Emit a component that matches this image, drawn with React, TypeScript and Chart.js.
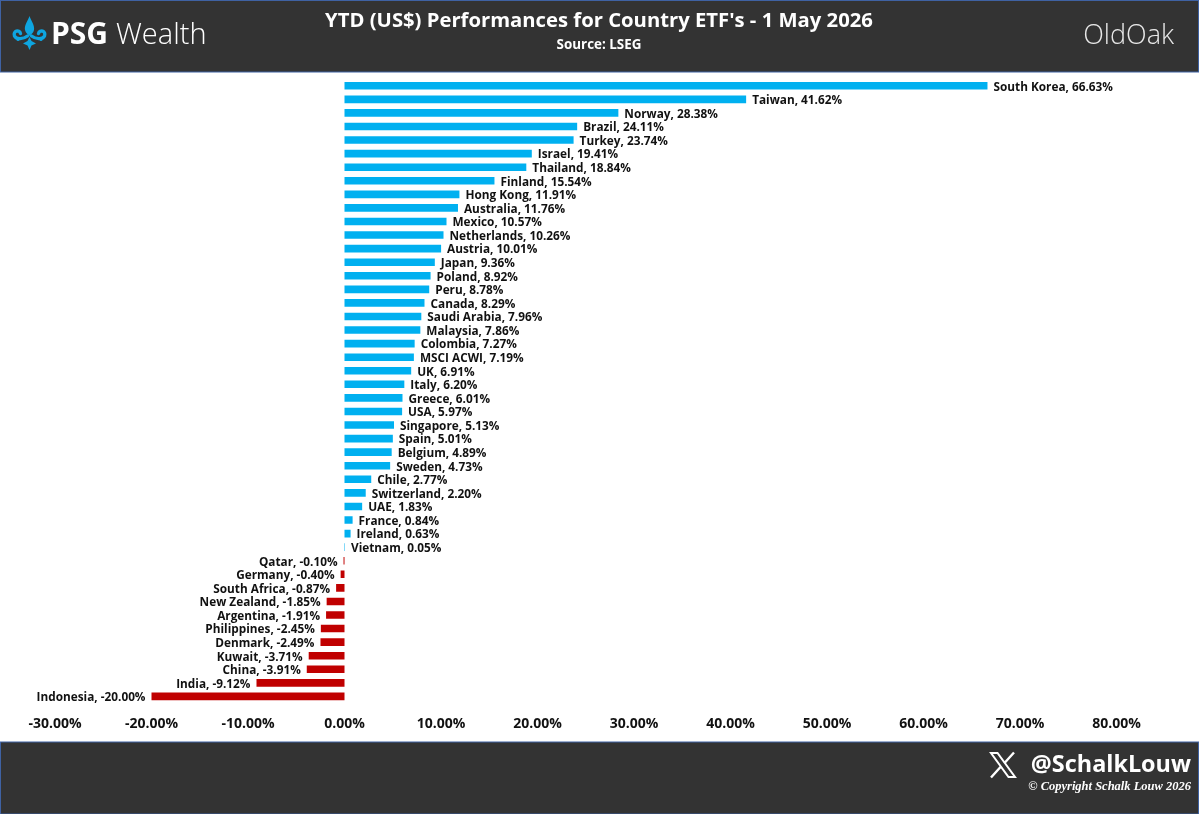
import React, { useEffect, useRef } from "react";
import { Chart, registerables } from "chart.js";

Chart.register(...registerables);

const countries = ["South Korea","Taiwan","Norway","Brazil","Turkey","Israel","Thailand","Finland","Hong Kong","Australia","Mexico","Netherlands","Austria","Japan","Poland","Peru","Canada","Saudi Arabia","Malaysia","Colombia","MSCI ACWI","UK","Italy","Greece","USA","Singapore","Spain","Belgium","Sweden","Chile","Switzerland","UAE","France","Ireland","Vietnam","Qatar","Germany","South Africa","New Zealand","Argentina","Philippines","Denmark","Kuwait","China","India","Indonesia"];
const performance = [66.63,41.62,28.38,24.11,23.74,19.41,18.84,15.54,11.91,11.76,10.57,10.26,10.01,9.36,8.92,8.78,8.29,7.96,7.86,7.27,7.19,6.91,6.20,6.01,5.97,5.13,5.01,4.89,4.73,2.77,2.20,1.83,0.84,0.63,0.05,-0.10,-0.40,-0.87,-1.85,-1.91,-2.45,-2.49,-3.71,-3.91,-9.12,-20.00];

const TITLE = "YTD (US$) Performances for Country ETF's - 1 May 2026";
const SUBTITLE = "Source: LSEG";
const FONT = '"Open Sans", "Noto Sans", sans-serif';
const DARK = "#333333";
const EDGE = "#3f62a3";
const BLUE = "#00B0F0";
const RED = "#C00000";

const fmt = (v: number) => v.toFixed(2) + "%";

function drawLogo(ctx: CanvasRenderingContext2D) {
  ctx.save();
  ctx.fillStyle = "#0ea5e0";
  // centre petal
  ctx.beginPath();
  ctx.moveTo(29.5, 16);
  ctx.bezierCurveTo(31, 21, 35, 25, 34, 30);
  ctx.bezierCurveTo(33.5, 33, 31, 34, 29.5, 36);
  ctx.bezierCurveTo(28, 34, 25.5, 33, 25, 30);
  ctx.bezierCurveTo(24, 25, 28, 21, 29.5, 16);
  ctx.fill();
  // lower diamond
  ctx.beginPath();
  ctx.moveTo(29.5, 37);
  ctx.lineTo(31.5, 41);
  ctx.lineTo(36, 43.5);
  ctx.lineTo(31.5, 45.5);
  ctx.lineTo(29.5, 50);
  ctx.lineTo(27.5, 45.5);
  ctx.lineTo(23, 43.5);
  ctx.lineTo(27.5, 41);
  ctx.closePath();
  ctx.fill();
  // side curls
  ctx.lineWidth = 3.4;
  ctx.strokeStyle = "#0ea5e0";
  ctx.lineCap = "round";
  for (const s of [-1, 1]) {
    ctx.beginPath();
    ctx.moveTo(29.5 + s * 2, 36);
    ctx.bezierCurveTo(29.5 + s * 6, 39, 29.5 + s * 13, 40, 29.5 + s * 15, 36);
    ctx.bezierCurveTo(29.5 + s * 17, 31, 29.5 + s * 10, 29, 29.5 + s * 9, 33.5);
    ctx.stroke();
    ctx.beginPath();
    ctx.arc(29.5 + s * 11.5, 39.5, 1.6, 0, Math.PI * 2);
    ctx.fill();
  }
  ctx.restore();
}

function drawX(ctx: CanvasRenderingContext2D) {
  ctx.save();
  ctx.strokeStyle = "#ffffff";
  ctx.lineWidth = 2;
  ctx.lineJoin = "miter";
  ctx.beginPath();
  ctx.moveTo(991, 753);
  ctx.lineTo(997.5, 753);
  ctx.lineTo(1015, 777);
  ctx.lineTo(1008.5, 777);
  ctx.closePath();
  ctx.stroke();
  ctx.lineWidth = 2.4;
  ctx.beginPath();
  ctx.moveTo(1014, 752.5);
  ctx.lineTo(1004.5, 763);
  ctx.moveTo(1000.5, 767);
  ctx.lineTo(991, 777.5);
  ctx.stroke();
  ctx.restore();
}

const framePlugin = {
  id: "frame",
  beforeDraw(chart: any) {
    const ctx: CanvasRenderingContext2D = chart.ctx;
    ctx.save();
    ctx.fillStyle = "#ffffff";
    ctx.fillRect(0, 0, 1199, 814);
    ctx.fillStyle = DARK;
    ctx.strokeStyle = EDGE;
    ctx.lineWidth = 1;
    ctx.fillRect(0, 0, 1199, 72);
    ctx.strokeRect(0.5, 0.5, 1198, 71.5);
    ctx.fillRect(0, 742, 1199, 72);
    ctx.strokeRect(0.5, 742, 1198, 72);
    ctx.restore();
  },
  afterDraw(chart: any) {
    const ctx: CanvasRenderingContext2D = chart.ctx;
    ctx.save();
    drawLogo(ctx);
    ctx.textBaseline = "alphabetic";
    ctx.textAlign = "center";
    ctx.fillStyle = "#ffffff";
    ctx.font = `700 20.25px ${FONT}`;
    ctx.fillText(TITLE, 599, 27);
    ctx.font = `700 13.4px ${FONT}`;
    ctx.fillText(SUBTITLE, 599, 49);
    ctx.textAlign = "left";
    ctx.font = `700 30px ${FONT}`;
    ctx.fillText("PSG", 51, 44);
    ctx.font = `300 29px ${FONT}`;
    ctx.fillText("Wealth", 116, 44);
    ctx.fillStyle = "#e8e8e8";
    ctx.textAlign = "right";
    ctx.font = `300 27px ${FONT}`;
    ctx.fillText("OldOak", 1174, 44);
    ctx.fillStyle = "#ffffff";
    ctx.font = `700 23.4px ${FONT}`;
    ctx.fillText("@SchalkLouw", 1191, 772);
    ctx.font = 'italic 700 12.5px "Liberation Serif", serif';
    ctx.fillText("© Copyright Schalk Louw 2026", 1191, 790);
    drawX(ctx);
    ctx.restore();
  },
};

const labelPlugin = {
  id: "barLabels",
  afterDatasetsDraw(chart: any) {
    const ctx: CanvasRenderingContext2D = chart.ctx;
    const meta = chart.getDatasetMeta(0);
    ctx.save();
    ctx.font = `700 11.8px ${FONT}`;
    ctx.fillStyle = "#111111";
    ctx.textBaseline = "middle";
    meta.data.forEach((bar: any, i: number) => {
      const v = performance[i];
      const text = `${countries[i]}, ${fmt(v)}`;
      ctx.textAlign = v >= 0 ? "left" : "right";
      ctx.fillText(text, bar.x + (v >= 0 ? 6 : -6), bar.y + 1.5);
    });
    ctx.restore();
  },
};

export default function App() {
  const ref = useRef<HTMLCanvasElement>(null);
  useEffect(() => {
    const chart = new Chart(ref.current!, {
      type: "bar",
      data: {
        labels: countries,
        datasets: [
          {
            data: performance,
            backgroundColor: performance.map((v) => (v >= 0 ? BLUE : RED)),
            categoryPercentage: 1,
            barPercentage: 0.56,
          },
        ],
      },
      options: {
        indexAxis: "y",
        animation: false,
        responsive: false,
        devicePixelRatio: 1,
        layout: { padding: { left: 55, right: 82.5, top: 79, bottom: 78 } },
        plugins: {
          legend: { display: false },
          tooltip: { enabled: false },
        },
        scales: {
          x: {
            min: -30,
            max: 80,
            ticks: {
              stepSize: 10,
              color: "#111111",
              font: { family: FONT, size: 14, weight: "700" },
              padding: 4,
              maxRotation: 0,
              callback: (v: any) => Number(v).toFixed(2) + "%",
            },
            grid: { display: false },
            border: { display: false },
          },
          y: {
            position: "left",
            afterFit: (s: any) => {
              s.width = 0;
            },
            ticks: { display: false },
            grid: { display: false },
            border: { display: false },
          },
        },
      },
      plugins: [framePlugin, labelPlugin],
    } as any);
    return () => chart.destroy();
  }, []);
  return (
    <canvas
      ref={ref}
      width={1199}
      height={814}
      style={{ position: "fixed", left: 0, top: 0, width: 1199, height: 814, display: "block" }}
    />
  );
}
